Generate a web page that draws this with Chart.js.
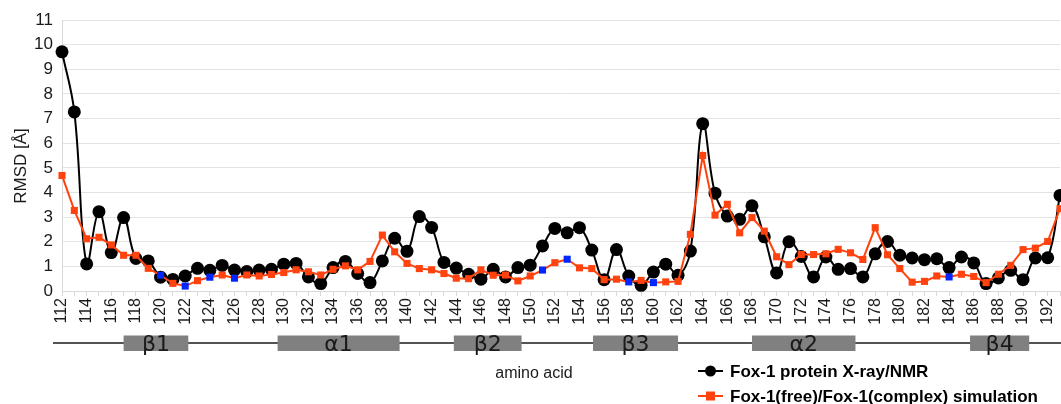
<!DOCTYPE html>
<html lang="en">
<head>
<meta charset="UTF-8">
<title>Fox-1 RMSD</title>
<script src="https://cdn.jsdelivr.net/npm/chart.js@4.4.1/dist/chart.umd.min.js"></script>
<style>
    html, body { margin: 0; padding: 0; background: #fff; }
    #wrap { width: 1061px; height: 404px; }
</style>
</head>
<body>
<div id="wrap"><canvas id="rmsdChart" width="1061" height="404"></canvas></div>
<script>
// residues 112..193
const residues = [];
for (let r = 112; r <= 193; r++) residues.push(String(r));

const xrayNmr = [
    9.71, 7.27, 1.10, 3.22, 1.56, 2.98, 1.32, 1.22, 0.56, 0.47,   // 112-121
    0.61, 0.92, 0.84, 1.04, 0.85, 0.79, 0.85, 0.88, 1.09, 1.12,   // 122-131
    0.57, 0.30, 0.95, 1.20, 0.71, 0.34, 1.22, 2.14, 1.61, 3.02,   // 132-141
    2.58, 1.16, 0.93, 0.68, 0.48, 0.88, 0.57, 0.95, 1.05, 1.83,   // 142-151
    2.54, 2.36, 2.57, 1.66, 0.46, 1.68, 0.61, 0.23, 0.77, 1.09,   // 152-161
    0.64, 1.62, 6.79, 3.97, 3.04, 2.91, 3.46, 2.20, 0.73, 2.00,   // 162-171
    1.40, 0.57, 1.38, 0.88, 0.91, 0.57, 1.51, 2.01, 1.45, 1.34,   // 172-181
    1.27, 1.31, 0.95, 1.38, 1.14, 0.30, 0.53, 0.84, 0.46, 1.34,   // 182-191
    1.35, 3.88                                                     // 192-193
];

const simulation = [
    4.69, 3.27, 2.12, 2.18, 1.87, 1.45, 1.45, 0.92, 0.64, 0.31,   // 112-121
    0.20, 0.42, 0.56, 0.65, 0.52, 0.65, 0.61, 0.67, 0.75, 0.86,   // 122-131
    0.78, 0.65, 0.88, 1.02, 0.86, 1.20, 2.27, 1.59, 1.12, 0.91,   // 132-141
    0.86, 0.71, 0.52, 0.50, 0.86, 0.64, 0.65, 0.41, 0.61, 0.85,   // 142-151
    1.15, 1.29, 0.94, 0.91, 0.46, 0.48, 0.37, 0.43, 0.34, 0.37,   // 152-161
    0.39, 2.30, 5.50, 3.08, 3.52, 2.36, 2.98, 2.43, 1.39, 1.07,   // 162-171
    1.48, 1.48, 1.51, 1.69, 1.55, 1.28, 2.57, 1.47, 0.91, 0.36,   // 172-181
    0.39, 0.61, 0.57, 0.68, 0.59, 0.34, 0.68, 1.04, 1.68, 1.74,   // 182-191
    2.01, 3.34                                                     // 192-193
];

// simulation points drawn in blue
const blueResidues = [120, 122, 124, 126, 151, 153, 158, 160, 184];

// secondary structure elements (residue ranges)
const structNames = ['β1', 'α1', 'β2', 'β3', 'α2', 'β4'];
const structStart = [117.0, 129.5, 143.8, 155.1, 168.0, 185.7];
const structEnd   = [122.25, 139.4, 149.3, 162.0, 176.4, 190.5];

const seriesNames = ['Fox-1 protein X-ray/NMR', 'Fox-1(free)/Fox-1(complex) simulation'];
const xTitle = 'amino acid';
const yTitle = 'RMSD [Å]';

const RED = '#ff420e';
const BLUE = '#0026ff';

let simColors = residues.map(r => blueResidues.includes(Number(r)) ? BLUE : RED);

Chart.defaults.font.family = '"Liberation Sans", Arial, sans-serif';
Chart.defaults.color = '#1a1a1a';

// draws the y title, structure bar, x title and the legend
const extras = {
    id: 'extras',
    afterDraw(chart) {
        const ctx = chart.ctx;
        const xs = chart.scales.x;
        const px = r => xs.getPixelForValue(r - 112);
        ctx.save();

        // y axis title (sits a bit below the plot centre)
        ctx.save();
        ctx.translate(21, 166);
        ctx.rotate(-Math.PI / 2);
        ctx.font = '17px "Liberation Sans"';
        ctx.fillStyle = '#1a1a1a';
        ctx.textAlign = 'center';
        ctx.textBaseline = 'middle';
        ctx.fillText(yTitle, 0, 0);
        ctx.restore();

        // backbone line
        ctx.strokeStyle = '#1a1a1a';
        ctx.lineWidth = 1.5;
        ctx.beginPath();
        ctx.moveTo(53, 343);
        ctx.lineTo(chart.width, 343);
        ctx.stroke();

        ctx.font = '22px "DejaVu Sans"';
        ctx.textAlign = 'center';
        ctx.textBaseline = 'middle';
        for (let i = 0; i < structNames.length; i++) {
            let x0 = px(structStart[i]), x1 = px(structEnd[i]);
            ctx.fillStyle = '#808080';
            ctx.fillRect(x0, 335.5, x1 - x0, 15.5);
            ctx.fillStyle = '#1a1a1a';
            ctx.fillText(structNames[i], (x0 + x1) / 2, 345);
        }

        // axis title
        ctx.font = '16px "Liberation Sans"';
        ctx.fillStyle = '#1a1a1a';
        ctx.fillText(xTitle, 534, 374);

        // legend
        ctx.textAlign = 'left';
        ctx.font = 'bold 17px "Liberation Sans"';
        let rows = [371, 396];
        let cols = ['#000000', RED];
        for (let i = 0; i < 2; i++) {
            let y = rows[i];
            ctx.strokeStyle = cols[i];
            ctx.fillStyle = cols[i];
            ctx.lineWidth = 2;
            ctx.beginPath();
            ctx.moveTo(698, y);
            ctx.lineTo(723, y);
            ctx.stroke();
            if (i === 0) {
                ctx.beginPath();
                ctx.arc(710.5, y, 5.5, 0, Math.PI * 2);
                ctx.fill();
            } else {
                ctx.fillRect(706, y - 4.5, 9, 9);
            }
            ctx.fillStyle = '#000';
            ctx.fillText(seriesNames[i], 730, y + 1);
        }
        ctx.restore();
    }
};

new Chart(document.getElementById('rmsdChart').getContext('2d'), {
    type: 'line',
    data: {
        labels: residues,
        datasets: [
            {
                label: seriesNames[0],
                data: xrayNmr,
                borderColor: '#000',
                backgroundColor: '#000',
                borderWidth: 2,
                tension: 0.4,
                pointStyle: 'circle',
                pointRadius: 6.5,
                pointBorderWidth: 0,
                clip: false,
                order: 1
            },
            {
                label: seriesNames[1],
                data: simulation,
                borderColor: RED,
                backgroundColor: simColors,
                pointBackgroundColor: simColors,
                pointBorderColor: simColors,
                borderWidth: 2,
                tension: 0,
                pointStyle: 'rect',
                pointRadius: 5,
                pointBorderWidth: 0,
                clip: false,
                order: 0
            }
        ]
    },
    options: {
        responsive: false,
        animation: false,
        layout: { autoPadding: false, padding: { top: 20, right: 1, left: 0, bottom: 0 } },
        plugins: {
            legend: { display: false },
            tooltip: { enabled: false }
        },
        scales: {
            x: {
                type: 'category',
                offset: false,
                grid: { drawOnChartArea: false, color: '#d9d9d9', tickLength: 5 },
                border: { color: '#d9d9d9' },
                ticks: {
                    autoSkip: false,
                    minRotation: 90,
                    maxRotation: 90,
                    padding: 2,
                    font: { size: 16 },
                    color: '#1a1a1a',
                    callback: function (v, i) { return i % 2 === 0 ? this.getLabelForValue(v) : ''; }
                },
                afterFit(scale) {
                    scale.height = 113;
                    scale.paddingLeft = 0;
                    scale.paddingRight = 0;
                }
            },
            y: {
                min: 0,
                max: 11,
                grid: { color: '#e3e3e3', drawTicks: false },
                border: { color: '#d9d9d9' },
                ticks: { stepSize: 1, padding: 9, font: { size: 17 }, color: '#1a1a1a' },
                afterFit(scale) { scale.width = 62; }
            }
        }
    },
    plugins: [extras]
});
</script>
</body>
</html>
